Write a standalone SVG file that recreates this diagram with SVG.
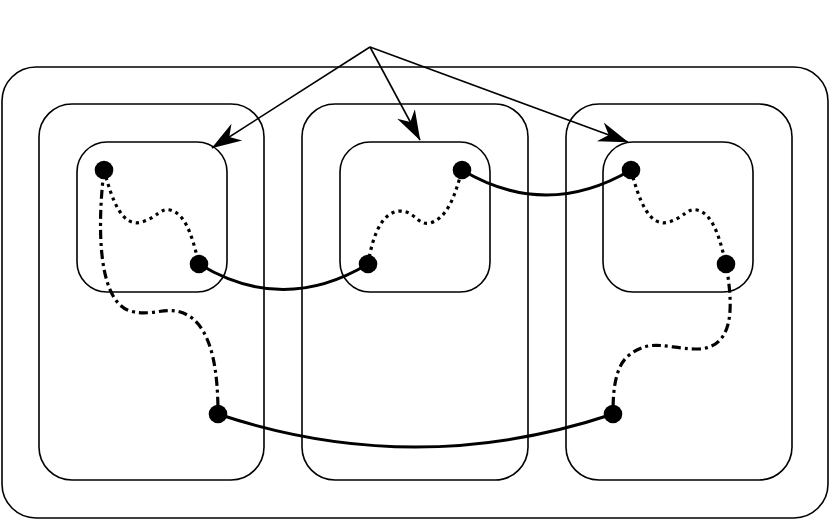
<svg xmlns="http://www.w3.org/2000/svg" width="830" height="522" viewBox="0 0 830 522">
<style>
.box{fill:none;stroke:#000;stroke-width:1.6}
.solid{fill:none;stroke:#000;stroke-width:3}
.dot{fill:none;stroke:#000;stroke-width:3.2;stroke-dasharray:3.2 4}
.dashdot{fill:none;stroke:#000;stroke-width:3.2;stroke-dasharray:9 4 3 4}
.arrow{fill:none;stroke:#000;stroke-width:1.6}
.pt{fill:#000}
</style>
<defs>
<marker id="ah" markerUnits="userSpaceOnUse" markerWidth="36" markerHeight="24" refX="29.5" refY="10" orient="auto" overflow="visible">
<path d="M0,0 L30,10 L0,20 L9,10 Z" fill="#000"/>
</marker>
</defs>
<g id="outer"><rect class="box" x="2" y="67" width="826" height="451" rx="34"/></g>
<g id="group1"><rect class="box" x="39" y="104" width="225" height="376" rx="33"/></g>
<g id="group2"><rect class="box" x="302" y="104" width="226" height="376" rx="33"/></g>
<g id="group3"><rect class="box" x="566" y="104" width="226" height="376" rx="33"/></g>
<g id="inner1"><rect class="box" x="77" y="142" width="150" height="150" rx="30"/></g>
<g id="inner2"><rect class="box" x="340" y="142" width="150" height="150" rx="30"/></g>
<g id="inner3"><rect class="box" x="603" y="142" width="150" height="150" rx="30"/></g>
<g id="connectors">
<path class="arrow" d="M370,47 L212,148" marker-end="url(#ah)"/>
<path class="arrow" d="M370,47 L420,140" marker-end="url(#ah)"/>
<path class="arrow" d="M370,47 L628,142" marker-end="url(#ah)"/>
<path class="solid" d="M199,264 Q283,315 368,264"/>
<path class="solid" d="M462,170 Q546,220 631,170"/>
<path class="solid" d="M218,414 Q415,480 613,414"/>
<path class="dot" d="M104,170 C112,200 122,228 142,222 C158,217 160,208 170,210 C188,214 194,245 199,264"/>
<path class="dot" d="M368,264 C372,240 380,212 400,211 C415,211 418,226 430,223 C448,218 455,195 462,170"/>
<path class="dot" d="M631,170 C639,200 649,228 669,222 C685,217 687,208 697,210 C715,214 721,245 726,264"/>
<path class="dashdot" d="M104,170 C98,220 96,300 130,311 C155,318 170,302 192,318 C212,334 218,370 218,414"/>
<path class="dashdot" d="M726,264 C732,300 738,350 695,349 C665,348 650,338 628,356 C614,368 613,395 613,414"/>
</g>
<g id="dots">
<circle class="pt" cx="104" cy="170" r="9.3"/>
<circle class="pt" cx="199" cy="264" r="9.3"/>
<circle class="pt" cx="368" cy="264" r="9.3"/>
<circle class="pt" cx="462" cy="170" r="9.3"/>
<circle class="pt" cx="631" cy="170" r="9.3"/>
<circle class="pt" cx="726" cy="264" r="9.3"/>
<circle class="pt" cx="218" cy="414" r="9.3"/>
<circle class="pt" cx="613" cy="414" r="9.3"/>
</g>
</svg>
